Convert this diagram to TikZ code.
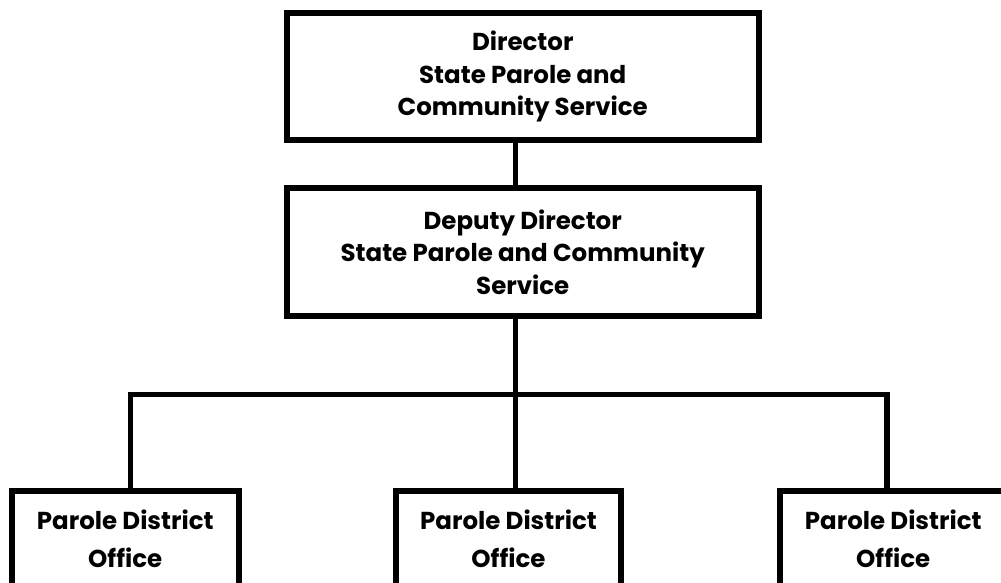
\documentclass[tikz,border=0pt]{standalone}
\usepackage{fontspec}
\setmainfont{Poppins}
\begin{document}
\begin{tikzpicture}[x=1pt,y=-1pt,
  box/.style={draw=black, line width=6pt, fill=white, inner sep=0pt},
  lbl/.style={font=\bfseries\fontsize{24.5}{32.5}\selectfont, align=center, inner sep=0pt},
  low/.style={font=\bfseries\fontsize{24.5}{38}\selectfont, align=center, inner sep=0pt, anchor=north},
  link/.style={line width=5.5pt}]
\useasboundingbox (0,0) rectangle (1001,583);
\clip (0,0) rectangle (1001,583);

% upper two levels
\node[box, lbl, minimum width=472.5pt, minimum height=127pt] (dir) at (522.75,76.5)
  {Director\\State Parole and\\Community Service};
\node[box, lbl, minimum width=472.5pt, minimum height=128pt] (dep) at (522.75,252)
  {Deputy Director\\State Parole and Community\\Service};

% district offices (open at the lower edge)
\node[box, minimum width=226.5pt, minimum height=160pt] (pdoA) at (125.25,571) {};
\node[box, minimum width=225.5pt, minimum height=160pt] (pdoB) at (508.25,571) {};
\node[box, minimum width=226.5pt, minimum height=160pt] (pdoC) at (893.25,571) {};
\node[low] (tA) at (125.25,510) {Parole District\\Office};
\node[low] (tB) at (508.5,510) {Parole District\\Office};
\node[low] (tC) at (893.25,510) {Parole District\\Office};

% connector positions
\coordinate (spine) at (515.5,0);
\coordinate (bus) at (515.5,394.5);
\coordinate (tapA) at (130.5,0);
\coordinate (tapC) at (887,0);

\draw[link] (dir.south -| spine) -- (dep.north -| spine);
\draw[link] (dep.south -| spine) -- (pdoB.north -| spine);
\draw[link] (tapA |- pdoA.north) |- (bus) -| (tapC |- pdoC.north);
\end{tikzpicture}
\end{document}
